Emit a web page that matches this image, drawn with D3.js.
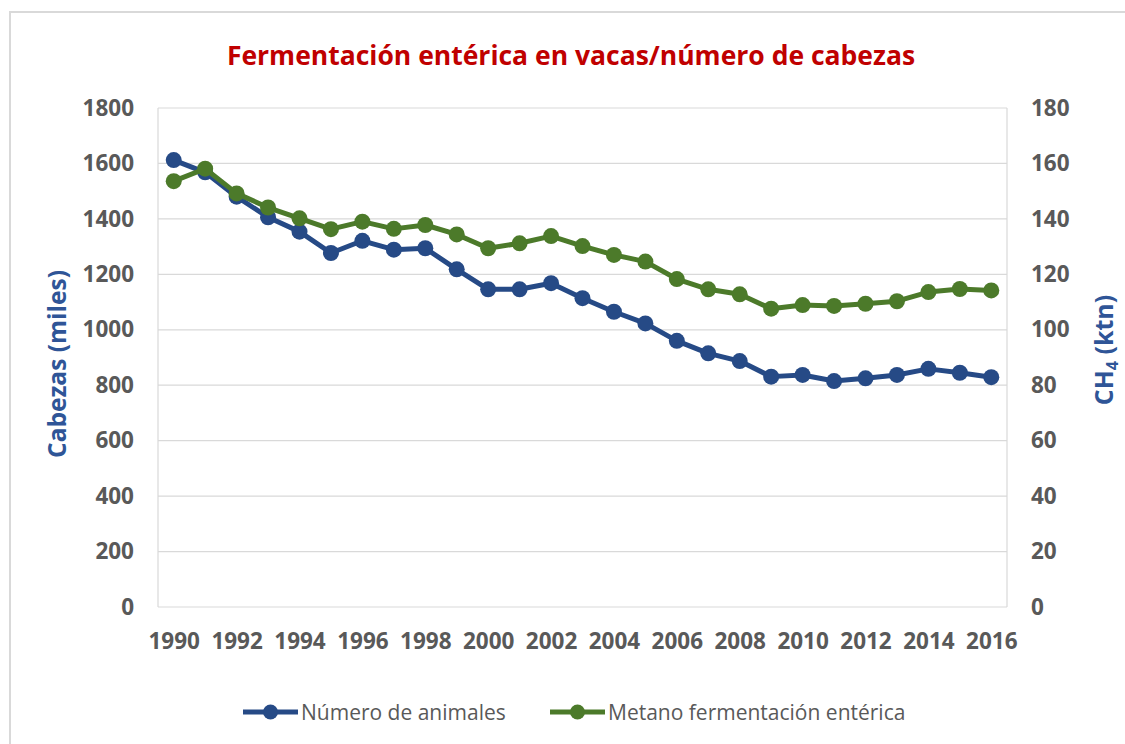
<!DOCTYPE html>
<html><head><meta charset="utf-8">
<script src="https://cdn.jsdelivr.net/npm/d3@7"></script>
<style>body{margin:0;background:#fff}svg{display:block}</style>
</head><body>
<svg id="c" width="1125" height="744"></svg>
<script>
const years = d3.range(1990, 2017).map(String);
const animales = [1612,1568,1480,1406,1354,1277,1321,1289,1294,1218,1146,1146,1168,1114,1065,1023,960,915,887,831,837,815,825,837,859,845,829];
const metano = [153.6,158.1,149.2,144.1,140.2,136.3,139.0,136.4,137.8,134.4,129.4,131.2,133.8,130.2,127.0,124.6,118.3,114.6,112.8,107.6,108.9,108.6,109.4,110.3,113.6,114.7,114.2];
const leftTicks = [0,200,400,600,800,1000,1200,1400,1600,1800];
const rightTicks = [0,20,40,60,80,100,120,140,160,180];
const xLabels = years.filter((d,i)=>i%2===0);
const seriesNames = ["Número de animales","Metano fermentación entérica"];
const colors = ["#264a86","#4c7a2a"];

const svg = d3.select("#c");
const F = "'Open Sans', 'Noto Sans', sans-serif";
const L = 158, R = 1007, T = 108, B = 607;

svg.append("rect").attr("x",10).attr("y",12).attr("width",1140).attr("height",760)
  .attr("fill","#fff").attr("stroke","#d9d9d9").attr("stroke-width",2);

const x = d3.scalePoint().domain(years).range([L,R]).padding(0.5);
const yL = d3.scaleLinear().domain([0,1800]).range([B,T]);
const yR = d3.scaleLinear().domain([0,180]).range([B,T]);

// gridlines
svg.append("g").selectAll("line").data(leftTicks).join("line")
  .attr("x1",L).attr("x2",R).attr("y1",d=>yL(d)).attr("y2",d=>yL(d))
  .attr("stroke","#d9d9d9").attr("stroke-width",1.2);
svg.append("line").attr("x1",L).attr("x2",L).attr("y1",T).attr("y2",B).attr("stroke","#d9d9d9").attr("stroke-width",1.2);
svg.append("line").attr("x1",R).attr("x2",R).attr("y1",T).attr("y2",B).attr("stroke","#d9d9d9").attr("stroke-width",1.2);

// axes
const axL = svg.append("g").attr("transform",`translate(${L},0)`)
  .call(d3.axisLeft(yL).tickValues(leftTicks).tickFormat(d3.format("d")).tickSize(0).tickPadding(24));
const axR = svg.append("g").attr("transform",`translate(${R},0)`)
  .call(d3.axisRight(yR).tickValues(rightTicks).tickFormat(d3.format("d")).tickSize(0).tickPadding(24));
const axB = svg.append("g").attr("transform",`translate(0,${B})`)
  .call(d3.axisBottom(x).tickValues(xLabels).tickSize(0).tickPadding(26));
[axL,axR,axB].forEach(a=>{
  a.select(".domain").remove();
  a.selectAll("text").attr("font-family",F).attr("font-size",22.5).attr("font-weight","bold").attr("fill","#595959");
});

// lines
const data = [animales.map((v,i)=>[years[i], yL(v)]), metano.map((v,i)=>[years[i], yR(v)])];
data.forEach((s,k)=>{
  const g = svg.append("g");
  g.append("path").datum(s).attr("fill","none").attr("stroke",colors[k]).attr("stroke-width",5)
    .attr("stroke-linejoin","round")
    .attr("d", d3.line().x(d=>x(d[0])).y(d=>d[1]));
  g.selectAll("circle").data(s).join("circle").attr("cx",d=>x(d[0])).attr("cy",d=>d[1]).attr("r",8).attr("fill",colors[k]);
});

// title
svg.append("text").attr("x",571).attr("y",65).attr("text-anchor","middle")
  .attr("font-family",F).attr("font-weight","bold").attr("font-size",26.5).attr("fill","#c00000")
  .text("Fermentación entérica en vacas/número de cabezas");

// axis titles
svg.append("text").attr("transform","translate(66,364) rotate(-90)").attr("text-anchor","middle")
  .attr("font-family",F).attr("font-weight","bold").attr("font-size",24.5).attr("fill","#2f5597")
  .text("Cabezas (miles)");
const rt = svg.append("text").attr("transform","translate(1113,350) rotate(-90)").attr("text-anchor","middle")
  .attr("font-family",F).attr("font-weight","bold").attr("font-size",25).attr("fill","#2f5597");
rt.append("tspan").text("CH");
rt.append("tspan").attr("font-size",16).attr("dy",5).text("4");
rt.append("tspan").attr("dy",-5).text(" (ktn)");

// legend
const legX = [243, 550];
seriesNames.forEach((n,k)=>{
  const g = svg.append("g").attr("transform",`translate(${legX[k]},712)`);
  g.append("line").attr("x1",0).attr("x2",55).attr("stroke",colors[k]).attr("stroke-width",5);
  g.append("circle").attr("cx",27.5).attr("r",7.5).attr("fill",colors[k]);
  g.append("text").attr("x",58).attr("y",7.5).attr("font-family",F).attr("font-size",21).attr("fill","#595959").text(n);
});
</script>
</body></html>
